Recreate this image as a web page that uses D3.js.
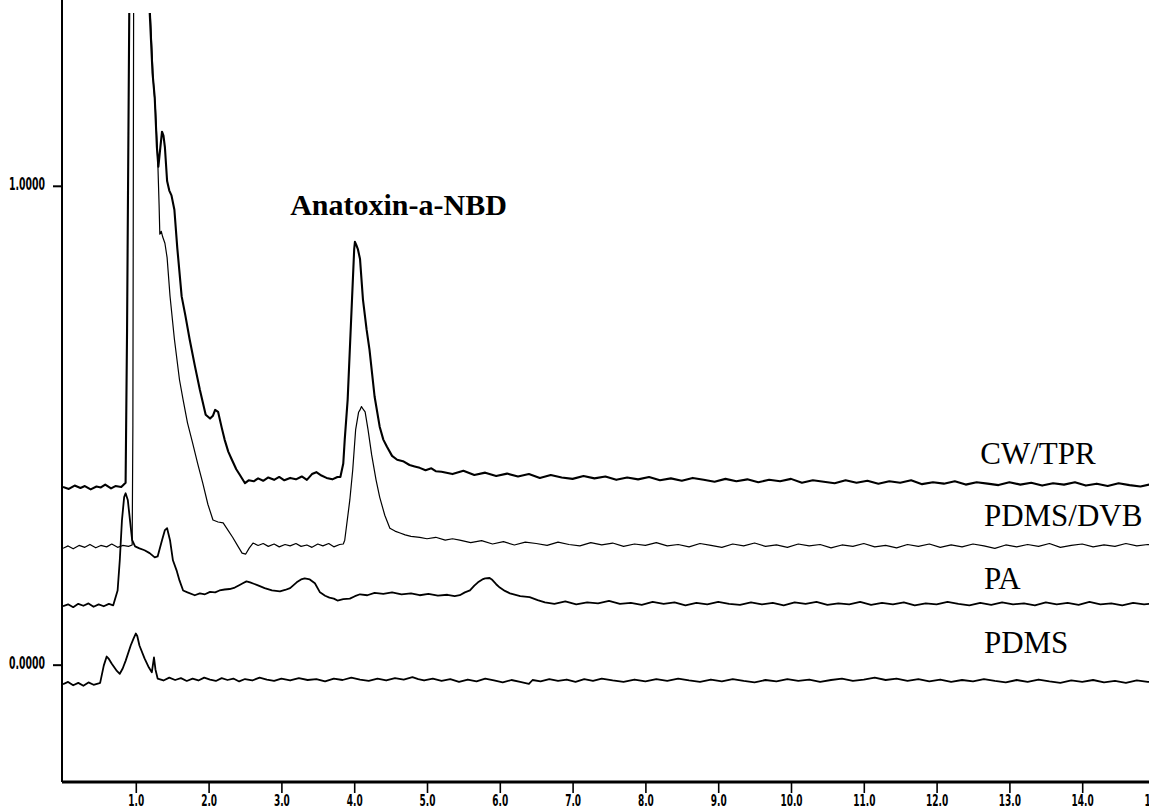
<!DOCTYPE html>
<html>
<head>
<meta charset="utf-8">
<script src="https://cdn.jsdelivr.net/npm/d3@7"></script>
<style>
  body { margin: 0; background: #fff; }
  svg { display: block; }
  .trace { fill: none; stroke: #000; stroke-linejoin: round; }
  .axis path, .axis line { stroke: #000; }
  .lbl { font-family: "Liberation Serif", "Times New Roman", serif; font-size: 31px; fill: #000; }
</style>
</head>
<body>
<div class="chart"></div>
<script>
// chart size
var svgW = 1149;
var svgH = 808;

// retention time ticks (min) and detector ticks
var xTicks = [1, 2, 3, 4, 5, 6, 7, 8, 9, 10, 11, 12, 13, 14, 15];
var yTicks = [0, 1];

// fibre names, in the order they are stacked
var fibres = ["CW/TPR", "PDMS/DVB", "PA", "PDMS"];

// traces: [time (min), signal]
var cwTpr = [
  [0.00,.371],[0.08,.367],[0.16,.374],[0.24,.369],[0.30,.373],[0.38,.366],[0.46,.372],[0.52,.370],
  [0.58,.376],[0.66,.368],[0.72,.373],[0.80,.371],[0.86,.380],[0.88,.70],[0.93,1.8],[1.12,1.8],
  [1.17,1.45],[1.19,1.365],[1.23,1.235],[1.26,1.184],[1.29,1.08],[1.31,1.04],[1.33,1.07],[1.36,1.113],
  [1.38,1.105],[1.40,1.08],[1.43,1.01],[1.46,0.99],[1.49,0.98],[1.53,0.95],[1.57,0.87],[1.63,0.769],
  [1.68,0.73],[1.74,0.679],[1.81,0.625],[1.88,0.574],[1.96,0.522],[2.02,0.514],[2.06,0.520],[2.09,0.532],
  [2.13,0.528],[2.18,0.495],[2.22,0.470],[2.27,0.445],[2.32,0.428],[2.38,0.408],[2.43,0.396],[2.50,0.379],
  [2.55,0.385],[2.62,0.383],[2.68,0.389],[2.75,0.384],[2.82,0.391],[2.90,0.386],[2.97,0.392],[3.04,0.385],
  [3.12,0.390],[3.20,0.387],[3.28,0.393],[3.35,0.386],[3.42,0.398],[3.48,0.402],[3.55,0.395],[3.62,0.390],
  [3.70,0.387],[3.77,0.392],[3.81,0.392],[3.85,0.42],[3.87,0.470],[3.91,0.553],[3.94,0.658],[3.97,0.763],
  [4.00,0.868],[4.01,0.883],[4.03,0.876],[4.05,0.868],[4.08,0.847],[4.12,0.763],[4.17,0.700],[4.21,0.658],
  [4.28,0.560],[4.35,0.497],[4.40,0.470],[4.45,0.455],[4.52,0.436],[4.59,0.428],[4.67,0.425],[4.76,0.417],
  [4.83,0.414],[4.90,0.411],[4.98,0.406],[5.06,0.410],[5.12,0.404],[5.20,.403],[5.35,.398],[5.50,.405],
  [5.65,.396],[5.80,.401],[5.95,.394],[6.10,.399],[6.25,.393],[6.40,.398],[6.55,.390],[6.70,.396],
  [6.85,.391],[7.00,.388],[7.15,.394],[7.30,.389],[7.45,.393],[7.60,.386],[7.75,.391],[7.90,.387],
  [8.05,.392],[8.20,.385],[8.35,.389],[8.50,.384],[8.65,.390],[8.80,.386],[8.95,.382],[9.10,.388],
  [9.25,.383],[9.40,.387],[9.55,.381],[9.70,.386],[9.85,.383],[10.00,.388],[10.15,.380],[10.30,.385],
  [10.45,.382],[10.60,.379],[10.75,.385],[10.90,.380],[11.05,.384],[11.20,.378],[11.35,.383],[11.50,.380],
  [11.65,.385],[11.80,.377],[11.95,.381],[12.10,.378],[12.25,.383],[12.40,.376],[12.55,.381],[12.70,.378],
  [12.85,.375],[13.00,.381],[13.15,.376],[13.30,.380],[13.45,.374],[13.60,.379],[13.75,.376],[13.90,.381],
  [14.05,.374],[14.20,.378],[14.35,.373],[14.50,.379],[14.65,.375],[14.80,.372],[14.95,.377],[15.10,.374]
];

var pdmsDvb = [
  [0.00,.243],[0.07,.248],[0.14,.242],[0.22,.249],[0.30,.245],[0.37,.251],[0.45,.244],[0.52,.249],
  [0.60,.246],[0.67,.252],[0.75,.245],[0.82,.249],[0.90,.247],[0.95,.250],[0.96,0.50],[0.975,1.8],
  [1.13,1.8],[1.18,1.42],[1.20,1.36],[1.24,1.22],[1.27,1.16],[1.30,1.06],[1.32,0.96],[1.33,0.899],
  [1.35,0.905],[1.37,0.893],[1.40,0.88],[1.43,0.850],[1.47,0.770],[1.53,0.680],[1.60,0.595],[1.65,0.553],
  [1.71,0.505],[1.78,0.463],[1.85,0.420],[1.92,0.379],[1.99,0.335],[2.06,0.302],[2.13,0.298],[2.20,0.296],
  [2.27,0.280],[2.33,0.266],[2.40,0.248],[2.46,0.233],[2.51,0.231],[2.56,0.244],[2.61,0.254],[2.68,.249],
  [2.75,.253],[2.82,.247],[2.90,.252],[2.97,.246],[3.05,.251],[3.12,.248],[3.20,.253],[3.27,.247],
  [3.35,.250],[3.42,.245],[3.50,.252],[3.57,.248],[3.65,.253],[3.72,.246],[3.80,.251],[3.85,.252],
  [3.87,0.26],[3.94,0.344],[3.98,0.407],[4.02,0.491],[4.06,0.527],[4.08,0.532],[4.10,0.539],[4.12,0.534],
  [4.15,0.528],[4.19,0.491],[4.24,0.438],[4.30,0.386],[4.35,0.350],[4.42,0.312],[4.49,0.285],[4.56,0.279],
  [4.63,0.275],[4.70,0.271],[4.78,0.268],[4.90,0.266],[5.00,0.263],[5.12,0.266],[5.25,0.260],[5.35,0.263],
  [5.45,.260],[5.60,.255],[5.75,.259],[5.90,.252],[6.05,.257],[6.20,.250],[6.35,.256],[6.50,.253],
  [6.65,.249],[6.80,.256],[6.95,.251],[7.10,.248],[7.25,.255],[7.40,.250],[7.55,.254],[7.70,.247],
  [7.85,.252],[8.00,.249],[8.15,.255],[8.30,.248],[8.45,.251],[8.60,.246],[8.75,.253],[8.90,.249],
  [9.05,.245],[9.20,.252],[9.35,.248],[9.50,.254],[9.65,.247],[9.80,.250],[9.95,.245],[10.10,.252],
  [10.25,.248],[10.40,.251],[10.55,.244],[10.70,.250],[10.85,.247],[11.00,.253],[11.15,.246],[11.30,.249],
  [11.45,.244],[11.60,.251],[11.75,.247],[11.90,.252],[12.05,.245],[12.20,.250],[12.35,.246],[12.50,.252],
  [12.65,.248],[12.80,.243],[12.95,.250],[13.10,.246],[13.25,.251],[13.40,.247],[13.55,.253],[13.70,.245],
  [13.85,.249],[14.00,.252],[14.15,.246],[14.30,.250],[14.45,.247],[14.60,.253],[14.75,.248],[14.90,.251],
  [15.05,.249]
];

var pa = [
  [0.00,.122],[0.07,.126],[0.14,.120],[0.21,.127],[0.28,.123],[0.35,.128],[0.42,.121],[0.49,.126],
  [0.56,.122],[0.63,.127],[0.69,.124],[0.75,.155],[0.78,.218],[0.81,.302],[0.84,.350],[0.86,.358],
  [0.89,.344],[0.92,.302],[0.95,.260],[0.99,.247],[1.05,.243],[1.12,.239],[1.19,.233],[1.26,.224],
  [1.30,.226],[1.36,.260],[1.40,.281],[1.43,.285],[1.47,.260],[1.51,.218],[1.56,.197],[1.60,.176],
  [1.65,.155],[1.71,.151],[1.81,.145],[1.88,.149],[1.95,.147],[2.02,.152],[2.09,.151],[2.15,.155],
  [2.22,.157],[2.29,.158],[2.36,.161],[2.42,.166],[2.47,.170],[2.52,.174],[2.57,.172],[2.62,.169],
  [2.67,.166],[2.77,.160],[2.87,.155],[2.98,.153],[3.05,.156],[3.12,.160],[3.21,.172],[3.27,.178],
  [3.32,.180],[3.39,.178],[3.46,.170],[3.53,.151],[3.60,.144],[3.66,.140],[3.72,.138],[3.77,.134],
  [3.85,.137],[3.94,.138],[4.01,.143],[4.08,.147],[4.18,.145],[4.28,.150],[4.40,.148],[4.52,.151],
  [4.65,.147],[4.78,.149],[4.90,.145],[5.02,.148],[5.15,.144],[5.28,.146],[5.38,.143],[5.45,.145],
  [5.52,.151],[5.59,.155],[5.65,.165],[5.70,.172],[5.76,.178],[5.80,.180],[5.86,.181],[5.89,.178],
  [5.95,.168],[6.00,.161],[6.07,.154],[6.14,.149],[6.28,.143],[6.41,.141],[6.52,.135],[6.62,.130],
  [6.75,.127],[6.90,.132],[7.05,.126],[7.20,.130],[7.35,.128],[7.50,.133],[7.65,.127],[7.80,.129],
  [7.95,.125],[8.10,.131],[8.25,.127],[8.40,.130],[8.55,.124],[8.70,.129],[8.85,.126],[9.00,.131],
  [9.15,.127],[9.30,.125],[9.45,.130],[9.60,.126],[9.75,.129],[9.90,.124],[10.05,.130],[10.20,.127],
  [10.35,.131],[10.50,.125],[10.65,.128],[10.80,.126],[10.95,.131],[11.10,.125],[11.25,.129],[11.40,.126],
  [11.55,.130],[11.70,.124],[11.85,.128],[12.00,.126],[12.15,.131],[12.30,.127],[12.45,.124],[12.60,.129],
  [12.75,.125],[12.90,.130],[13.05,.126],[13.20,.128],[13.35,.124],[13.50,.130],[13.65,.126],[13.80,.129],
  [13.95,.125],[14.10,.131],[14.25,.126],[14.40,.128],[14.55,.124],[14.70,.129],[14.85,.126],[15.00,.128],
  [15.10,.127]
];

var pdms = [
  [0.00,-.041],[0.07,-.036],[0.14,-.043],[0.21,-.038],[0.28,-.044],[0.35,-.037],[0.42,-.042],[0.49,-.039],
  [0.51,-.038],[0.56,-.002],[0.60,.017],[0.63,.012],[0.67,.002],[0.74,-.013],[0.78,-.019],[0.82,-.008],
  [0.86,.008],[0.93,.040],[0.97,.055],[1.00,.065],[1.02,.060],[1.05,.040],[1.12,.013],[1.18,-.006],
  [1.22,-.016],[1.25,.015],[1.27,-.010],[1.30,-.029],[1.38,-.033],[1.46,-.027],[1.54,-.032],[1.62,-.028],
  [1.70,-.034],[1.78,-.029],[1.86,-.033],[1.94,-.027],[2.02,-.031],[2.10,-.034],[2.18,-.028],[2.26,-.032],
  [2.34,-.029],[2.42,-.035],[2.50,-.030],[2.60,-.033],[2.70,-.027],[2.80,-.031],[2.90,-.034],[3.00,-.029],
  [3.12,-.033],[3.24,-.028],[3.36,-.032],[3.48,-.030],[3.60,-.035],[3.72,-.029],[3.84,-.032],[3.96,-.027],
  [4.08,-.031],[4.20,-.034],[4.32,-.029],[4.44,-.033],[4.56,-.028],[4.68,-.031],[4.80,-.026],[4.88,-.030],
  [4.96,-.033],[5.08,-.029],[5.20,-.034],[5.32,-.030],[5.44,-.036],[5.56,-.031],[5.68,-.035],[5.80,-.029],
  [5.92,-.033],[6.04,-.037],[6.16,-.032],[6.28,-.036],[6.40,-.040],[6.45,-.032],[6.56,-.035],[6.68,-.030],
  [6.80,-.034],[6.92,-.031],[7.04,-.036],[7.16,-.030],[7.28,-.034],[7.40,-.029],[7.55,-.033],[7.70,-.036],
  [7.85,-.031],[8.00,-.035],[8.15,-.030],[8.30,-.034],[8.45,-.029],[8.60,-.033],[8.75,-.036],[8.90,-.031],
  [9.05,-.035],[9.20,-.030],[9.35,-.034],[9.50,-.037],[9.65,-.032],[9.80,-.035],[9.95,-.030],[10.10,-.034],
  [10.25,-.031],[10.40,-.036],[10.55,-.032],[10.70,-.029],[10.85,-.034],[11.00,-.031],[11.15,-.027],[11.30,-.032],
  [11.45,-.029],[11.60,-.034],[11.75,-.030],[11.90,-.035],[12.05,-.031],[12.20,-.036],[12.35,-.032],[12.50,-.035],
  [12.65,-.030],[12.80,-.034],[12.95,-.037],[13.10,-.032],[13.25,-.036],[13.40,-.031],[13.55,-.035],[13.70,-.038],
  [13.85,-.033],[14.00,-.036],[14.15,-.032],[14.30,-.037],[14.45,-.034],[14.60,-.038],[14.75,-.033],[14.90,-.036],
  [15.05,-.035]
];

// label spots for each fibre (time, signal)
var fibreLabelAt = [[12.6, 0.42], [12.65, 0.29], [12.65, 0.158], [12.65, 0.025]];
var peakName = "Anatoxin-a-NBD";

// scales
var x = d3.scaleLinear().domain([0, 15]).range([63, 1155]);
var y = d3.scaleLinear().domain([-0.245, 1.388]).range([782, 0]);

var svg = d3.select(".chart")
  .append("svg")
    .attr("width", svgW)
    .attr("height", svgH);

svg.append("clipPath")
    .attr("id", "plotclip")
  .append("rect")
    .attr("x", 63)
    .attr("y", 13)
    .attr("width", svgW - 63)
    .attr("height", 782 - 13);

var line = d3.line()
  .x(function(d) { return x(d[0]); })
  .y(function(d) { return y(d[1]); });

var traces = [
  { data: pdms, w: 1.8 },
  { data: pa, w: 1.8 },
  { data: pdmsDvb, w: 1.2 },
  { data: cwTpr, w: 2.1 }
];

svg.append("g")
    .attr("clip-path", "url(#plotclip)")
  .selectAll("path")
  .data(traces)
  .enter().append("path")
    .attr("class", "trace")
    .attr("d", function(d) { return line(d.data); })
    .attr("stroke-width", function(d) { return d.w; });

// x axis
var xaxis = d3.axisBottom(x)
  .tickValues(xTicks)
  .tickSize(11)
  .tickPadding(2)
  .tickFormat(function(d) { return d.toFixed(1); });

var gx = svg.append("g")
    .attr("class", "axis")
    .attr("transform", "translate(0,782)")
    .call(xaxis);
gx.select(".domain").remove();
gx.selectAll("line").attr("stroke-width", 1.6);
gx.selectAll("text")
    .attr("transform", "scale(0.6,1)")
    .style("font-family", "DejaVu Sans, sans-serif")
    .style("font-size", "15px")
    .style("font-weight", "bold")
    .attr("fill", "#000");
svg.append("line")
    .attr("x1", 62).attr("x2", svgW)
    .attr("y1", 782).attr("y2", 782)
    .attr("stroke", "#000")
    .attr("stroke-width", 3);

// y axis
var yaxis = d3.axisLeft(y)
  .tickValues(yTicks)
  .tickSize(9)
  .tickFormat(d3.format(".4f"));

var gy = svg.append("g")
    .attr("class", "axis")
    .attr("transform", "translate(62,0)")
    .call(yaxis);
gy.select(".domain").remove();
gy.selectAll("line").attr("stroke-width", 2);
gy.selectAll("text")
    .attr("x", 0)
    .attr("dy", "0.2em")
    .attr("transform", "translate(-17,0) scale(0.55,1)")
    .style("font-family", "DejaVu Sans, sans-serif")
    .style("font-size", "17px")
    .style("font-weight", "bold")
    .attr("fill", "#000");
svg.append("line")
    .attr("x1", 62).attr("x2", 62)
    .attr("y1", 0).attr("y2", 782)
    .attr("stroke", "#000")
    .attr("stroke-width", 2);

// fibre labels
svg.selectAll(".lbl")
  .data(fibres)
  .enter().append("text")
    .attr("class", "lbl")
    .attr("x", function(d, i) { return x(fibreLabelAt[i][0]); })
    .attr("y", function(d, i) { return y(fibreLabelAt[i][1]); })
    .text(function(d) { return d; });

// peak name
svg.append("text")
    .attr("class", "lbl")
    .attr("x", x(3.12))
    .attr("y", y(0.938))
    .style("font-weight", "bold")
    .style("font-size", "30px")
    .text(peakName);
</script>
</body>
</html>
